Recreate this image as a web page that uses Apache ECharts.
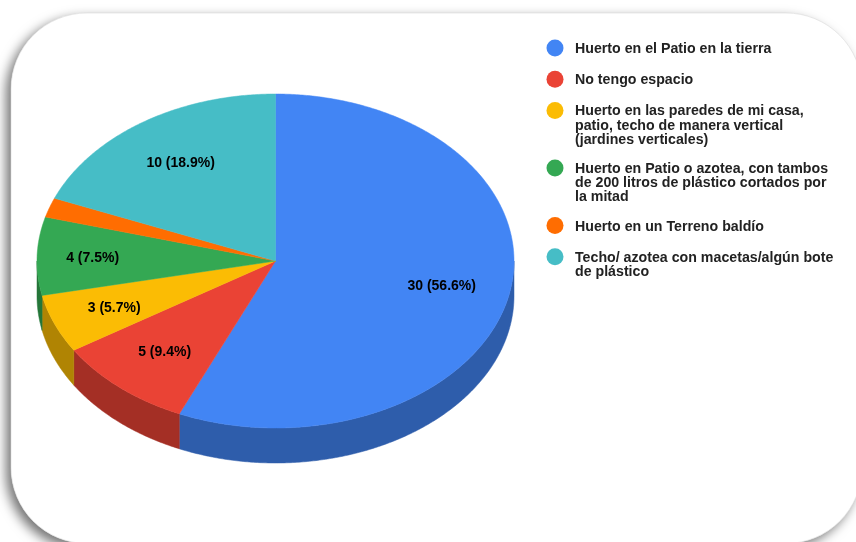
<!DOCTYPE html>
<html lang="es">
<head>
<meta charset="utf-8">
<style>html,body{margin:0;padding:0;background:#fff}#chart{width:856px;height:542px}</style>
<script src="https://cdn.jsdelivr.net/npm/echarts@6/dist/echarts.min.js"></script>
</head>
<body>
<div id="chart"></div>
<script>
// Respuestas de la encuesta sobre dónde se ubica el huerto
const categories = [
  ['Huerto en el Patio en la tierra'],
  ['No tengo espacio'],
  ['Huerto en las paredes de mi casa,', 'patio, techo de manera vertical', '(jardines verticales)'],
  ['Huerto en Patio o azotea, con tambos', 'de 200 litros de plástico cortados por', 'la mitad'],
  ['Huerto en un Terreno baldío'],
  ['Techo/ azotea con macetas/algún bote', 'de plástico']
];
const counts = [30, 5, 3, 4, 1, 10];
const topColors = ['#4285F4', '#EA4335', '#FBBC04', '#34A853', '#FF6D01', '#46BDC6'];
const wallColors = ['#2E5DAB', '#A42F25', '#B08403', '#247639', '#B24C01', '#31848B'];
// Distancia de cada etiqueta al centro, como fracción del radio
const labelReach = [0.712, 0.712, 0.73, 0.767, 0.712, 0.712];

const FONT = '"Liberation Sans", Arial, sans-serif';
const total = counts.reduce((a, b) => a + b, 0);

// Geometría de la elipse superior y espesor del disco
const disc = { cx: 275.5, cy: 261, rx: 238.5, ry: 167, depth: 35 };
const rim = (deg, drop) => {
  const a = deg * Math.PI / 180;
  return [disc.cx + disc.rx * Math.sin(a), disc.cy - disc.ry * Math.cos(a) + (drop || 0)];
};
const arc = (from, to, drop) => {
  const pts = [];
  const n = Math.max(2, Math.ceil(Math.abs(to - from) * 2));
  for (let i = 0; i <= n; i++) pts.push(rim(from + (to - from) * i / n, drop));
  return pts;
};

function renderSlice(params, api) {
  const i = api.value(0);
  const before = counts.slice(0, i).reduce((a, b) => a + b, 0);
  const start = before / total * 360;
  const end = (before + api.value(1)) / total * 360;
  const children = [];

  // Pared visible: solo la mitad frontal del disco (90° a 270°)
  const wallFrom = Math.max(start, 90);
  const wallTo = Math.min(end, 270);
  if (wallTo > wallFrom) {
    children.push({
      type: 'polygon',
      shape: { points: arc(wallFrom, wallTo, 0).concat(arc(wallTo, wallFrom, disc.depth)) },
      style: { fill: wallColors[i], stroke: wallColors[i], lineWidth: 0.5 }
    });
  }

  children.push({
    type: 'polygon',
    shape: { points: [[disc.cx, disc.cy]].concat(arc(start, end, 0)) },
    style: { fill: topColors[i], stroke: topColors[i], lineWidth: 0.5 },
    z2: 5
  });

  // Las porciones muy pequeñas no llevan etiqueta
  const share = api.value(1) / total * 100;
  if (share >= 5) {
    const mid = (start + end) / 2 * Math.PI / 180;
    children.push({
      type: 'text',
      x: disc.cx + disc.rx * labelReach[i] * Math.sin(mid),
      y: disc.cy - disc.ry * labelReach[i] * Math.cos(mid) + 1,
      style: {
        text: api.value(1) + ' (' + share.toFixed(1) + '%)',
        fill: '#000', font: 'bold 14px ' + FONT, align: 'center', verticalAlign: 'middle'
      },
      z2: 10
    });
  }
  return { type: 'group', children };
}

// Leyenda: el círculo se alinea con la primera línea de cada entrada
const legendItems = [];
let rowY = 48;
categories.forEach((lines, i) => {
  legendItems.push({
    type: 'circle', z: 20,
    shape: { cx: 555, cy: rowY, r: 8.5 },
    style: { fill: topColors[i] }
  });
  lines.forEach((line, k) => {
    legendItems.push({
      type: 'text', z: 20, x: 575, y: rowY + k * 14.2 + 1,
      style: { text: line, fill: '#222', font: 'bold 14.2px ' + FONT, verticalAlign: 'middle' }
    });
  });
  rowY += 18 + 13.2 * lines.length;
});

// Tarjeta de fondo: sombra hacia abajo a la izquierda y filete fino encima
const cardShape = { x: 11, y: 13, width: 851, height: 530.5, r: 76 };

const chart = echarts.init(document.getElementById('chart'), null, { renderer: 'canvas' });
chart.setOption({
  animation: false,
  backgroundColor: '#fff',
  graphic: [
    {
      type: 'rect', z: 0,
      shape: cardShape,
      style: {
        fill: '#fff',
        shadowBlur: 12, shadowColor: 'rgba(0,0,0,0.55)', shadowOffsetX: -5, shadowOffsetY: 5
      }
    },
    {
      type: 'rect', z: 1,
      shape: cardShape,
      style: { fill: '#fff', stroke: '#d8d8d8', lineWidth: 0.6 }
    }
  ].concat(legendItems),
  series: [{
    type: 'custom',
    coordinateSystem: 'none',
    silent: true,
    renderItem: renderSlice,
    data: counts.map((v, i) => [i, v])
  }]
});
</script>
</body>
</html>
